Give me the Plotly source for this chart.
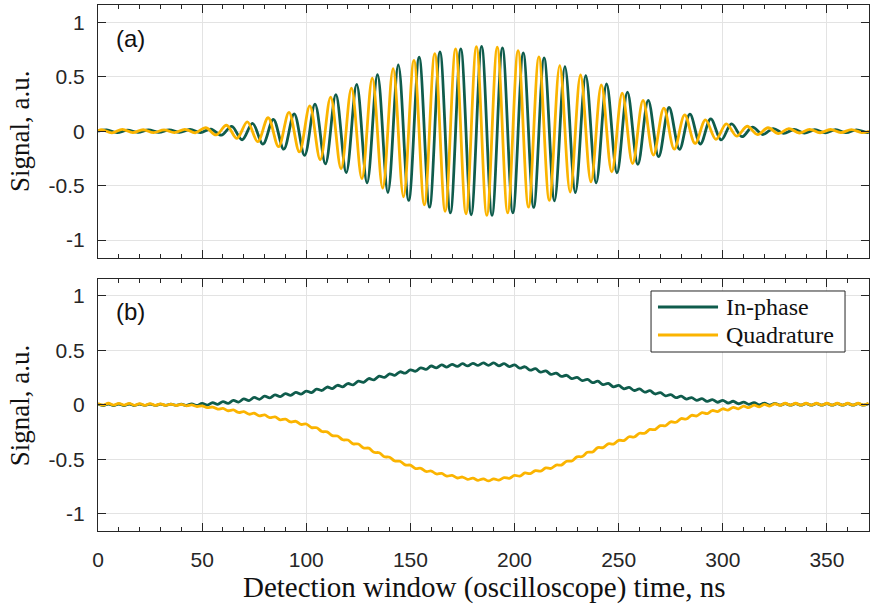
import plotly.graph_objects as go
from plotly.subplots import make_subplots

# ---------------- data ----------------
# Panel (a): extrema of the raw oscillating signals (time in ns, signal in a.u.)
q_raw_t = [0.0, 1.7, 6.7, 11.7, 16.7, 21.7, 26.7, 31.7, 36.7, 41.7, 46.7, 51.7, 56.7, 61.7, 66.7,
           71.7, 76.7, 81.7, 86.7, 91.7, 96.7, 101.7, 106.7, 111.7, 116.7, 121.7, 126.7, 131.7,
           136.7, 141.7, 146.7, 151.7, 156.7, 161.7, 166.7, 171.7, 176.7, 181.7, 186.7, 191.7,
           196.7, 201.7, 206.7, 211.7, 216.7, 221.7, 226.7, 231.7, 236.7, 241.7, 246.7, 251.7,
           256.7, 261.7, 266.7, 271.7, 276.7, 281.7, 286.7, 291.7, 296.7, 301.7, 306.7, 311.7,
           316.7, 321.7, 326.7, 331.7, 336.7, 341.7, 346.7, 351.7, 356.7, 361.7, 366.7, 370.2]
q_raw_v = [0.005, 0.015, -0.015, 0.018, -0.012, 0.014, -0.013, 0.012, -0.012, 0.018, -0.014,
           0.032, -0.034, 0.055, -0.065, 0.086, -0.096, 0.124, -0.142, 0.174, -0.19, 0.234,
           -0.262, 0.314, -0.345, 0.397, -0.436, 0.489, -0.523, 0.575, -0.602, 0.652, -0.676,
           0.714, -0.735, 0.757, -0.758, 0.778, -0.773, 0.772, -0.75, 0.741, -0.698, 0.683,
           -0.636, 0.603, -0.558, 0.517, -0.466, 0.427, -0.374, 0.351, -0.297, 0.283, -0.22,
           0.212, -0.165, 0.15, -0.112, 0.104, -0.074, 0.067, -0.045, 0.046, -0.03, 0.032,
           -0.022, 0.025, -0.016, 0.018, -0.014, 0.016, -0.013, 0.015, -0.012, 0.0]

i_raw_t = [0.0, 4.2, 9.2, 14.2, 19.2, 24.2, 29.2, 34.2, 39.2, 44.2, 49.2, 54.2, 59.2, 64.2, 69.2,
           74.2, 79.2, 84.2, 89.2, 94.2, 99.2, 104.2, 109.2, 114.2, 119.2, 124.2, 129.2, 134.2,
           139.2, 144.2, 149.2, 154.2, 159.2, 164.2, 169.2, 174.2, 179.2, 184.2, 189.2, 194.2,
           199.2, 204.2, 209.2, 214.2, 219.2, 224.2, 229.2, 234.2, 239.2, 244.2, 249.2, 254.2,
           259.2, 264.2, 269.2, 274.2, 279.2, 284.2, 289.2, 294.2, 299.2, 304.2, 309.2, 314.2,
           319.2, 324.2, 329.2, 334.2, 339.2, 344.2, 349.2, 354.2, 359.2, 364.2, 369.2, 370.2]
i_raw_v = [0.0, 0.012, -0.012, 0.01, -0.01, 0.012, -0.01, 0.012, -0.01, 0.016, -0.012, 0.02,
           -0.036, 0.045, -0.078, 0.072, -0.118, 0.11, -0.165, 0.16, -0.222, 0.249, -0.30,
           0.337, -0.38, 0.43, -0.474, 0.52, -0.563, 0.61, -0.636, 0.68, -0.698, 0.73, -0.75,
           0.757, -0.767, 0.78, -0.773, 0.766, -0.75, 0.72, -0.70, 0.674, -0.64, 0.594, -0.563,
           0.51, -0.474, 0.434, -0.382, 0.36, -0.305, 0.283, -0.234, 0.218, -0.166, 0.157,
           -0.117, 0.114, -0.08, 0.067, -0.05, 0.037, -0.03, 0.025, -0.02, 0.016, -0.016, 0.014,
           -0.014, 0.014, -0.013, 0.013, -0.012, -0.005]

# Panel (b): demodulated signals, sampled every 2.5 ns
demod_t = [0.0, 2.5, 5.0, 7.5, 10.0, 12.5, 15.0, 17.5, 20.0, 22.5, 25.0, 27.5, 30.0, 32.5, 35.0,
           37.5, 40.0, 42.5, 45.0, 47.5, 50.0, 52.5, 55.0, 57.5, 60.0, 62.5, 65.0, 67.5, 70.0,
           72.5, 75.0, 77.5, 80.0, 82.5, 85.0, 87.5, 90.0, 92.5, 95.0, 97.5, 100.0, 102.5, 105.0,
           107.5, 110.0, 112.5, 115.0, 117.5, 120.0, 122.5, 125.0, 127.5, 130.0, 132.5, 135.0,
           137.5, 140.0, 142.5, 145.0, 147.5, 150.0, 152.5, 155.0, 157.5, 160.0, 162.5, 165.0,
           167.5, 170.0, 172.5, 175.0, 177.5, 180.0, 182.5, 185.0, 187.5, 190.0, 192.5, 195.0,
           197.5, 200.0, 202.5, 205.0, 207.5, 210.0, 212.5, 215.0, 217.5, 220.0, 222.5, 225.0,
           227.5, 230.0, 232.5, 235.0, 237.5, 240.0, 242.5, 245.0, 247.5, 250.0, 252.5, 255.0,
           257.5, 260.0, 262.5, 265.0, 267.5, 270.0, 272.5, 275.0, 277.5, 280.0, 282.5, 285.0,
           287.5, 290.0, 292.5, 295.0, 297.5, 300.0, 302.5, 305.0, 307.5, 310.0, 312.5, 315.0,
           317.5, 320.0, 322.5, 325.0, 327.5, 330.0, 332.5, 335.0, 337.5, 340.0, 342.5, 345.0,
           347.5, 350.0, 352.5, 355.0, 357.5, 360.0, 362.5, 365.0, 367.5, 370.0]
inphase = [0.007, -0.007, 0.007, -0.007, 0.007, -0.007, 0.007, -0.007, 0.006, -0.006, 0.006,
           -0.006, 0.005, -0.005, 0.005, -0.005, 0.005, -0.006, 0.008, -0.007, 0.012, -0.003,
           0.02, 0.004, 0.029, 0.013, 0.041, 0.025, 0.054, 0.038, 0.067, 0.050, 0.079, 0.063,
           0.091, 0.074, 0.102, 0.086, 0.113, 0.097, 0.126, 0.112, 0.143, 0.131, 0.163, 0.149,
           0.179, 0.165, 0.195, 0.183, 0.216, 0.206, 0.241, 0.229, 0.263, 0.251, 0.284, 0.271,
           0.303, 0.29, 0.321, 0.308, 0.339, 0.325, 0.356, 0.339, 0.366, 0.346, 0.371, 0.352,
           0.377, 0.357, 0.381, 0.361, 0.384, 0.362, 0.384, 0.358, 0.377, 0.35, 0.366, 0.336,
           0.349, 0.318, 0.331, 0.3, 0.311, 0.28, 0.291, 0.26, 0.271, 0.24, 0.251, 0.221, 0.233,
           0.203, 0.216, 0.185, 0.196, 0.165, 0.177, 0.147, 0.159, 0.131, 0.145, 0.116, 0.129,
           0.099, 0.111, 0.081, 0.093, 0.065, 0.079, 0.052, 0.066, 0.04, 0.056, 0.031, 0.048,
           0.023, 0.041, 0.016, 0.032, 0.009, 0.025, 0.004, 0.019, -0.001, 0.015, -0.003, 0.012,
           -0.004, 0.011, -0.004, 0.011, -0.004, 0.011, -0.004, 0.011, -0.004, 0.011, -0.004,
           0.011, -0.004, 0.011, -0.004, 0.011, -0.004, 0.011, -0.004, 0.010]
quadrature = [0.012, -0.004, 0.014, -0.004, 0.013, -0.004, 0.012, -0.005, 0.011, -0.005, 0.01,
              -0.006, 0.008, -0.006, 0.006, -0.007, 0.004, -0.01, -0.002, -0.016, -0.01, -0.027,
              -0.021, -0.04, -0.034, -0.055, -0.048, -0.071, -0.063, -0.087, -0.078, -0.102,
              -0.094, -0.119, -0.111, -0.138, -0.132, -0.158, -0.152, -0.181, -0.177, -0.21,
              -0.211, -0.246, -0.249, -0.284, -0.287, -0.322, -0.324, -0.359, -0.361, -0.397,
              -0.399, -0.437, -0.441, -0.478, -0.482, -0.517, -0.519, -0.553, -0.555, -0.586,
              -0.584, -0.613, -0.609, -0.636, -0.631, -0.656, -0.649, -0.673, -0.664, -0.685,
              -0.674, -0.694, -0.681, -0.7, -0.681, -0.692, -0.669, -0.676, -0.649, -0.656,
              -0.627, -0.633, -0.605, -0.61, -0.581, -0.585, -0.554, -0.554, -0.519, -0.517,
              -0.479, -0.476, -0.437, -0.434, -0.394, -0.394, -0.359, -0.361, -0.327, -0.329,
              -0.294, -0.296, -0.262, -0.262, -0.227, -0.228, -0.192, -0.193, -0.157, -0.161,
              -0.127, -0.131, -0.097, -0.103, -0.072, -0.081, -0.053, -0.063, -0.037, -0.049,
              -0.024, -0.037, -0.013, -0.027, -0.004, -0.019, 0.003, -0.012, 0.009, -0.006,
              0.014, -0.004, 0.014, -0.004, 0.014, -0.004, 0.014, -0.004, 0.014, -0.004, 0.014,
              -0.004, 0.014, -0.004, 0.014, -0.004, 0.014, -0.004, 0.014, -0.004, 0.012]

x_ticks = [0, 50, 100, 150, 200, 250, 300, 350]
y_ticks = [-1, -0.5, 0, 0.5, 1]
y_tick_text = ["-1", "-0.5", "0", "0.5", "1"]
series_names = ["In-phase", "Quadrature"]
x_title = "Detection window (oscilloscope) time, ns"
y_title = "Signal, a.u."
panel_labels = ["(a)", "(b)"]

GREEN = "#0f5c4c"
YELLOW = "#fbb400"
SERIF = "Liberation Serif"
SANS = "Liberation Sans"
AXC = "#262626"

fig = make_subplots(rows=2, cols=1, shared_xaxes=True, vertical_spacing=21 / 526)

fig.add_trace(go.Scatter(x=i_raw_t, y=i_raw_v, mode="lines", line=dict(color=GREEN, width=2.8, shape="spline"),
                         showlegend=False), row=1, col=1)
fig.add_trace(go.Scatter(x=q_raw_t, y=q_raw_v, mode="lines", line=dict(color=YELLOW, width=2.8, shape="spline"),
                         showlegend=False), row=1, col=1)
fig.add_trace(go.Scatter(x=demod_t, y=inphase, mode="lines", name=series_names[0], showlegend=False,
                         line=dict(color=GREEN, width=2.8, shape="spline")), row=2, col=1)
fig.add_trace(go.Scatter(x=demod_t, y=quadrature, mode="lines", name=series_names[1], showlegend=False,
                         line=dict(color=YELLOW, width=2.8, shape="spline")), row=2, col=1)

xa = dict(range=[0, 370.2], tickvals=x_ticks, showgrid=True, gridcolor="#e3e3e3", gridwidth=1,
          zeroline=False, showline=True, linecolor=AXC, linewidth=1, mirror="allticks",
          ticks="inside", ticklen=8, tickcolor=AXC, automargin=False, ticklabelstandoff=10,
          minor=dict(dtick=10, ticks="inside", ticklen=4, tickcolor=AXC, showgrid=False),
          tickfont=dict(family=SANS, size=21, color=AXC))
ya = dict(range=[-1.16, 1.16], tickvals=y_ticks, ticktext=y_tick_text, showgrid=True,
          gridcolor="#e3e3e3", gridwidth=1, zeroline=False, showline=True, linecolor=AXC,
          linewidth=1, mirror="allticks", ticks="inside", ticklen=8, tickcolor=AXC,
          automargin=False, ticklabelstandoff=8,
          tickfont=dict(family=SANS, size=21, color=AXC))

fig.update_xaxes(**xa)
fig.update_yaxes(**ya)

# axis titles
fig.add_annotation(text=x_title, xref="paper", yref="paper", x=0.5, y=-0.107,
                   xanchor="center", yanchor="middle", showarrow=False,
                   font=dict(family=SERIF, size=29, color="#111111"))
for yc in (0.7605, 0.2395):
    fig.add_annotation(text=y_title, xref="paper", yref="paper", x=-0.101, y=yc, textangle=-90,
                       xanchor="center", yanchor="middle", showarrow=False,
                       font=dict(family=SERIF, size=27, color="#111111"))

# panel labels
for r, lab in enumerate(panel_labels, start=1):
    fig.add_annotation(text=lab, xref="x domain", yref="y domain", x=0.021, y=0.93,
                       xanchor="left", yanchor="top", showarrow=False,
                       font=dict(family=SANS, size=24, color="#111111"), row=r, col=1)

# legend (drawn in panel b)
fig.add_shape(type="rect", xref="paper", yref="paper", x0=0.7173, x1=0.9689, y0=0.3403, y1=0.4563,
              line=dict(color=AXC, width=1), fillcolor="white", layer="above")
for name, col, yy in ((series_names[0], GREEN, 0.4259), (series_names[1], YELLOW, 0.3726)):
    fig.add_shape(type="line", xref="paper", yref="paper", x0=0.7263, x1=0.8042, y0=yy, y1=yy,
                  line=dict(color=col, width=2.8), layer="above")
    fig.add_annotation(text=name, xref="paper", yref="paper", x=0.8120, y=yy,
                       xanchor="left", yanchor="middle", showarrow=False,
                       font=dict(family=SERIF, size=24, color="#111111"))

fig.update_layout(
    width=871, height=610,
    margin=dict(l=98, r=2, t=5, b=79, autoexpand=False),
    paper_bgcolor="white", plot_bgcolor="white",
    showlegend=False,
)

fig.write_html("out.html", config={"responsive": False, "displayModeBar": False},
               post_script="document.body.style.margin='0';document.body.style.overflow='hidden';")
